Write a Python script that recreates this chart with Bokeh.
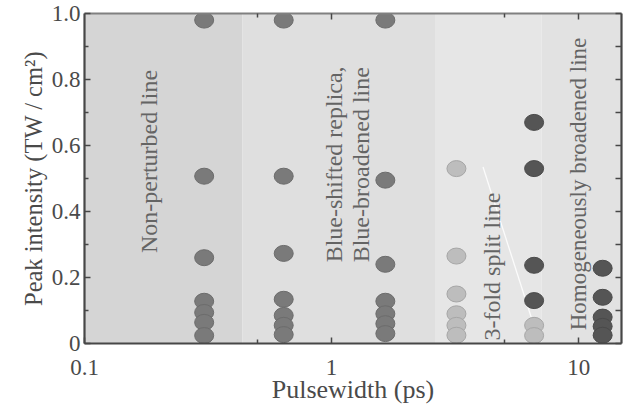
from bokeh.plotting import figure
from bokeh.models import LogAxis, LinearAxis, FixedTicker, CustomJSTickFormatter, Label, Range1d
from bokeh.embed import file_html
from bokeh.resources import INLINE

# ---------------- data ----------------
region_left = [0.1, 0.436, 2.64, 7.07]
region_right = [0.436, 2.64, 7.07, 14.9]
region_colors = ["#d5d5d5", "#dfdfdf", "#e6e6e6", "#e2e2e2"]

# medium-gray points (pulsewidth ps, peak intensity TW/cm2)
mid_x = [0.305, 0.305, 0.305, 0.305, 0.305, 0.305, 0.305,
         0.64, 0.64, 0.64, 0.64, 0.64, 0.64, 0.64,
         1.65, 1.65, 1.65, 1.65, 1.65, 1.65, 1.65]
mid_y = [0.98, 0.507, 0.26, 0.128, 0.094, 0.064, 0.024,
         0.98, 0.507, 0.273, 0.134, 0.085, 0.055, 0.027,
         0.98, 0.495, 0.24, 0.128, 0.09, 0.06, 0.03]

# light-gray points
light_x = [3.2, 3.2, 3.2, 3.2, 3.2, 3.2, 6.6, 6.6]
light_y = [0.53, 0.265, 0.15, 0.09, 0.055, 0.025, 0.055, 0.024]

# dark-gray points
dark_x = [6.6, 6.6, 6.6, 6.6, 12.5, 12.5, 12.5, 12.5, 12.5]
dark_y = [0.67, 0.53, 0.237, 0.13, 0.228, 0.14, 0.08, 0.052, 0.025]

# faint white boundary line in the 3-fold region
split_x = [4.1, 6.55]
split_y = [0.535, 0.06]

y_ticks = [0, 0.2, 0.4, 0.6, 0.8, 1.0]
y_minor = [0.1, 0.3, 0.5, 0.7, 0.9]
x_ticks = [0.1, 1, 10]
x_minor = [0.5, 5]

FONT = "'Liberation Serif', 'DejaVu Serif', serif"
AX = "#474747"

p = figure(width=627, height=406, x_axis_type="log",
           x_range=Range1d(0.1, 14.9), y_range=Range1d(0, 1.0),
           output_backend="svg", toolbar_location=None,
           min_border_left=84, min_border_right=6, min_border_top=13, min_border_bottom=0,
           background_fill_color="white", border_fill_color="white")
p.outline_line_color = None
p.xgrid.visible = False
p.ygrid.visible = False

p.quad(left=region_left, right=region_right, bottom=0, top=1.0,
       fill_color=region_colors, line_color=None)

p.line(split_x, split_y, line_color="white", line_width=1.3, line_alpha=0.85)

p.ellipse(mid_x, mid_y, width=19, height=16, width_units="screen", height_units="screen",
          fill_color="#7a7a7a", line_color="#6c6c6c", line_width=1)
p.ellipse(light_x, light_y, width=19, height=16, width_units="screen", height_units="screen",
          fill_color="#bdbdbd", line_color="#a6a6a6", line_width=1)
p.ellipse(dark_x, dark_y, width=19, height=16, width_units="screen", height_units="screen",
          fill_color="#555555", line_color="#4a4a4a", line_width=1)

# region labels
def vlabel(x, y, t, size="24px"):
    p.add_layout(Label(x=x, y=y, text=t, angle=90, angle_units="deg",
                       text_font=FONT, text_font_size=size, text_color="#646464",
                       text_align="left", text_baseline="alphabetic"))

vlabel(0.183, 0.274, "Non-perturbed line")
vlabel(1.02, 0.246, "Blue-shifted replica,")
vlabel(1.31, 0.246, "Blue-broadened line")
vlabel(4.44, 0.009, "3-fold split line")
vlabel(10.0, 0.04, "Homogeneously broadened line", "23px")

def style(ax, labels=True):
    ax.axis_line_color = AX
    ax.axis_line_width = 2.2
    ax.major_tick_in = 6
    ax.major_tick_out = 0
    ax.minor_tick_in = 4
    ax.minor_tick_out = 0
    ax.major_tick_line_color = AX
    ax.minor_tick_line_color = AX
    ax.major_tick_line_width = 1.5
    ax.minor_tick_line_width = 1.5
    ax.major_label_text_font = FONT
    ax.major_label_text_color = "#4a4a4a"
    ax.axis_label_text_font = FONT
    ax.axis_label_text_font_style = "normal"
    ax.axis_label_text_color = "#4a4a4a"
    if labels:
        ax.major_label_text_font_size = "23px"
    else:
        ax.major_label_text_font_size = "0px"
        ax.major_label_standoff = 0

# bottom axis
xa = p.xaxis[0]
xa.ticker = FixedTicker(ticks=x_ticks, minor_ticks=x_minor)
xa.formatter = CustomJSTickFormatter(code="return tick.toString();")
style(xa)
xa.major_label_standoff = 16
xa.axis_label = "Pulsewidth (ps)"
xa.axis_label_text_font_size = "26px"
xa.axis_label_standoff = -3

# left axis
ya = p.yaxis[0]
ya.ticker = FixedTicker(ticks=y_ticks, minor_ticks=y_minor)
ya.formatter = CustomJSTickFormatter(
    code="if (tick == 0) return '0'; return tick.toFixed(1);")
style(ya)
ya.major_label_standoff = 4
ya.axis_label = "Peak intensity (TW / cm²)"
ya.axis_label_text_font_size = "24.5px"
ya.axis_label_standoff = 2

# top axis
ta = LogAxis(ticker=FixedTicker(ticks=[1, 10], minor_ticks=x_minor),
             formatter=CustomJSTickFormatter(code="return '';"))
style(ta, labels=False)
ta.axis_line_color = "#808080"
ta.axis_line_width = 2
p.add_layout(ta, "above")

# right axis
ra = LinearAxis(ticker=FixedTicker(ticks=y_ticks, minor_ticks=y_minor),
                formatter=CustomJSTickFormatter(code="return '';"))
style(ra, labels=False)
ra.minor_tick_in = 6
p.add_layout(ra, "right")

open("out.html", "w").write(file_html(p, INLINE))
